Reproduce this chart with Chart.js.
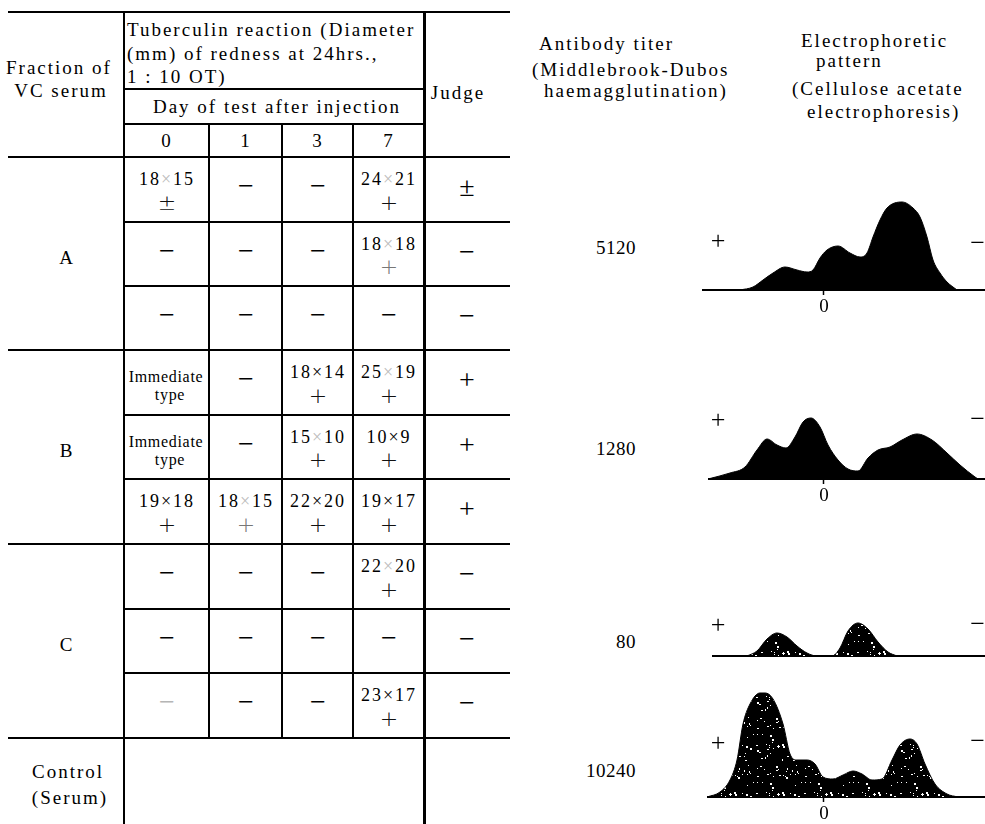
<!DOCTYPE html>
<html>
<head>
<meta charset="utf-8">
<script src="https://cdn.jsdelivr.net/npm/chart.js@4.4.0/dist/chart.umd.min.js"></script>
<style>
  html, body { margin: 0; padding: 0; background: #fff; }
  #page { position: relative; width: 985px; height: 824px; overflow: hidden;
          font-family: "Liberation Serif", "Times New Roman", serif; color: #000; }
  .t { position: absolute; white-space: nowrap; line-height: 0.85; transform-origin: 0 0; }
  .rule { position: absolute; background: #000; }
  canvas { position: absolute; }
</style>
</head>
<body>
<div id="page"></div>
<script>
// ---- Table content ----
const fractionLabels = ['A', 'B', 'C', 'Control\n(Serum)'];
const dayLabels = ['0', '1', '3', '7'];
const tuberculinHeader = ['Tuberculin reaction (Diameter', '(mm) of redness at 24hrs.,', '1 : 10 OT)'];
const reactionRows = [
  ['18×15\n±', '−', '−', '24×21\n+'],
  ['−', '−', '−', '18×18\n+'],
  ['−', '−', '−', '−'],
  ['Immediate\ntype', '−', '18×14\n+', '25×19\n+'],
  ['Immediate\ntype', '−', '15×10\n+', '10×9\n+'],
  ['19×18\n+', '18×15\n+', '22×20\n+', '19×17\n+'],
  ['−', '−', '−', '22×20\n+'],
  ['−', '−', '−', '−'],
  ['−', '−', '−', '23×17\n+'],
];
const judgeMarks = ['±', '−', '−', '+', '+', '+', '−', '−', '−'];
const titerHeader = ['Antibody titer', '(Middlebrook-Dubos', 'haemagglutination)'];
const patternHeader = ['Electrophoretic', 'pattern', '(Cellulose acetate', 'electrophoresis)'];
const titers = ['5120', '1280', '80', '10240'];

// ---- Electrophoretic densitometry profiles (mobility vs. density) ----
const mobilityA = [-8.4, -7.1, -6.1, -5.1, -3.9, -2.7, -1.7, -1.1, -0.4, 0.3, 1.4, 2.6, 3.6, 4.3, 4.9, 5.6, 6.3, 7.8, 8.9, 9.6, 10.3, 10.9, 11.6, 12.3, 13.3];
const densityA  = [0, 3, 10, 17, 23, 20, 18, 20, 32, 40, 44, 37, 33, 37, 53, 70, 82, 88, 82, 73, 53, 30, 17, 8, 0];
const mobilityB = [-11.6, -9.4, -7.9, -6.7, -5.7, -4.7, -3.8, -2.9, -2.1, -1.3, -0.4, 0.4, 1.4, 2.4, 3.4, 4.4, 5.4, 6.6, 7.8, 9.3, 10.8, 12.3, 13.6, 15.1, 15.4];
const densityB  = [0, 6, 12, 29, 40, 34, 31, 42, 57, 61, 52, 34, 19, 10, 8, 21, 29, 32, 39, 45, 39, 26, 14, 2, 0];
const mobilityC = [-7.7, -6.7, -5.7, -4.7, -3.7, -2.7, -1.7, -0.7, 0.8, 1.6, 2.4, 3.4, 4.4, 5.4, 6.4, 7.3];
const densityC  = [0, 5, 17, 23, 19, 10, 3, 0, 0, 8, 25, 33, 27, 14, 4, 0];
const mobilityControl = [-11.7, -10.4, -9.4, -8.7, -8.1, -7.4, -6.4, -5.9, -5.1, -4.1, -3.4, -2.7, -1.7, -0.9, -0.1, 0.9, 1.9, 2.9, 3.8, 4.8, 5.8, 6.8, 7.6, 8.6, 9.3, 10.1, 11.1, 12.3, 13.4];
const densityControl  = [0, 5, 17, 37, 73, 93, 104, 104, 98, 73, 43, 37, 37, 33, 20, 18, 22, 26, 23, 17, 18, 37, 52, 58, 53, 33, 13, 3, 0];

// ---- Layout ----
const page = document.getElementById('page');
const rowEdges = [157, 222, 286, 350, 415, 479, 544, 609, 673, 738];
const dayColX = [167, 246, 318, 389];
const judgeX = 467;
const faintCross = ['0,0', '0,3', '1,3', '3,3', '4,2', '5,1', '6,3'];
const faintCells = ['8,0'];
const LH = 0.85;                       // line-height in em

// baseline offset (em) from the top of a line box for a given font
function baseOff(family) {
  return family && family.startsWith('"DejaVu') ? LH / 2 + 0.346 : LH / 2 + 0.3375;
}

function put(text, x, base, o = {}) {
  const size = o.size || 19;
  const s = document.createElement('span');
  s.className = 't';
  s.style.fontSize = size + 'px';
  if (o.family) s.style.fontFamily = o.family;
  if (o.weight) s.style.fontWeight = o.weight;
  s.style.letterSpacing = (o.ls === undefined ? 2 : o.ls) + 'px';
  if (o.color) s.style.color = o.color;
  if (o.html) s.innerHTML = text; else s.textContent = text;
  s.style.left = x + 'px';
  s.style.top = (base - baseOff(o.family) * size) + 'px';
  const sx = o.scaleX || 1;
  const shift = o.align === 'left' ? '0' : (o.align === 'right' ? '-100%' : '-50%');
  s.style.transform = `translateX(${shift}) scaleX(${sx})`;
  s.style.transformOrigin = o.align === 'left' ? '0 0' : (o.align === 'right' ? '100% 0' : '50% 0');
  page.appendChild(s);
  return s;
}
function hRule(y, x1, x2, w) {
  const d = document.createElement('div');
  d.className = 'rule';
  Object.assign(d.style, { left: x1 + 'px', top: (y - w / 2) + 'px', width: (x2 - x1) + 'px', height: w + 'px' });
  page.appendChild(d);
}
function vRule(x, y1, y2, w) {
  const d = document.createElement('div');
  d.className = 'rule';
  Object.assign(d.style, { left: (x - w / 2) + 'px', top: y1 + 'px', width: w + 'px', height: (y2 - y1) + 'px' });
  page.appendChild(d);
}

// Table rules
hRule(12, 8, 510, 2);
hRule(89, 124, 424, 1.5);
hRule(124, 124, 424, 1.5);
rowEdges.forEach((y, i) => {
  const major = i % 3 === 0;
  hRule(y, major ? 8 : 124, 510, major ? 2 : 1.5);
});
vRule(124, 12, 824, 2);
vRule(424, 12, 824, 3);
[209, 282, 353].forEach(x => vRule(x, 124, 738, 1.5));

// Header text
put('Fraction of', 59, 74);
put('VC serum', 61, 97);
tuberculinHeader.forEach((t, i) => put(t, 127, [36.5, 60, 83.5][i], { align: 'left' }));
put('Day of test after injection', 277, 113);
dayLabels.forEach((d, i) => put(d, dayColX[i], 147));
put('Judge', 458, 99.5);
titerHeader.forEach((t, i) => put(t, [539, 532, 544][i], [50, 76, 97][i], { align: 'left' }));
patternHeader.forEach((t, i) => put(t, [801, 816, 792, 807][i], [47.5, 67, 95, 118][i], { align: 'left' }));

// Fraction labels
const groupBase = [264, 457, 651];
fractionLabels.forEach((f, i) => {
  if (i < 3) put(f, 67, groupBase[i]);
  else {
    const [a, b] = f.split('\n');
    put(a, 68, 778);
    put(b, 70, 804);
  }
});

// Reaction cells
const SYM = 28;
function mark(sym, x, base, color) {
  put(sym, x, base, { size: SYM, ls: 0, color });
}
reactionRows.forEach((row, r) => {
  const c = (rowEdges[r] + rowEdges[r + 1]) / 2;
  row.forEach((cell, k) => {
    const x = dayColX[k];
    const key = r + ',' + k;
    const faint = faintCells.includes(key) ? '#b5b5b5' : null;
    if (cell.startsWith('Immediate')) {
      const [a, b] = cell.split('\n');
      put(a, x - 1, c, { size: 16, ls: 0.7 });
      put(b, x + 3, c + 18, { size: 16, ls: 0.7 });
    } else if (cell.includes('\n')) {
      const [num, sign] = cell.split('\n');
      const parts = num.split('×');
      const cross = faintCross.includes(key) ? '<span style="color:#bbb">×</span>' : '×';
      put(parts[0] + cross + parts[1], x, c - 3.5, { size: 18, ls: 2, html: true });
      put(sign, x, c + 21, { size: 22, ls: 0, family: '"DejaVu Sans", sans-serif', weight: 200,
                              color: (key === '1,3' || key === '5,1') ? '#777' : '#111' });
    } else {
      mark(cell, x, c + 6, faint);
    }
  });
  const jm = judgeMarks[r];
  mark(jm, judgeX, c + 7);
});

// Titers
[254.5, 455, 648, 777].forEach((b, i) => put(titers[i], 636, b, { align: 'right', ls: 0.5 }));

// ---- Electrophoretic patterns drawn with Chart.js ----
const PLOT_H = 110;
const AXIS_H = 30;
const ORIGIN_X = 824;   // page x of mobility 0
const PX_PER_UNIT = 10;
const RIGHT_EDGE = 985;

// Grainy strip texture for the weaker-stained strips (fixed, repeatable speckle)
function grainFill() {
  const n = 48;
  const p = document.createElement('canvas');
  p.width = n; p.height = n;
  const g = p.getContext('2d');
  g.fillStyle = '#000';
  g.fillRect(0, 0, n, n);
  g.fillStyle = '#fff';
  let s = 12345;
  const next = () => (s = (s * 16807) % 2147483647);
  for (let i = 0; i < 55; i++) {
    const x = next() % n, y = next() % n;
    g.fillRect(x, y, 1 + (next() % 3 === 0 ? 1 : 0), 1 + (next() % 4 === 0 ? 1 : 0));
  }
  return g.createPattern(p, 'repeat');
}

function pattern(mob, dens, left, baseline, showZero, grainy) {
  const cv = document.createElement('canvas');
  cv.width = RIGHT_EDGE - left;
  cv.height = PLOT_H + AXIS_H;
  cv.style.left = left + 'px';
  cv.style.top = (baseline - PLOT_H) + 'px';
  page.appendChild(cv);
  new Chart(cv, {
    type: 'line',
    data: {
      datasets: [{
        data: mob.map((m, i) => ({ x: m, y: dens[i] })),
        borderColor: '#000',
        backgroundColor: grainy ? grainFill() : '#000',
        borderWidth: 1,
        fill: 'origin',
        pointRadius: 0,
        cubicInterpolationMode: 'monotone'
      }]
    },
    options: {
      responsive: false,
      animation: false,
      devicePixelRatio: 1,
      layout: { padding: 0 },
      plugins: { legend: { display: false }, tooltip: { enabled: false } },
      scales: {
        x: {
          type: 'linear',
          min: (left - ORIGIN_X) / PX_PER_UNIT,
          max: (RIGHT_EDGE - ORIGIN_X) / PX_PER_UNIT,
          afterFit: s => { s.height = AXIS_H; },
          afterBuildTicks: s => { s.ticks = [{ value: 0 }]; },
          border: { display: true, color: '#000', width: 2 },
          grid: { display: true, drawOnChartArea: false, drawTicks: showZero, tickLength: 5, tickColor: '#000', tickWidth: 1.5 },
          ticks: { display: showZero, color: '#000', padding: 1, font: { family: 'Liberation Serif', size: 19 } }
        },
        y: { display: false, min: 0, max: PLOT_H }
      }
    }
  });
}

pattern(mobilityA, densityA, 702, 290, true, false);
pattern(mobilityB, densityB, 708, 479, true, false);
pattern(mobilityC, densityC, 712, 656, false, true);
pattern(mobilityControl, densityControl, 707, 797, true, true);

// Polarity marks beside each pattern
[[243, 245], [422, 421], [627, 626], [745, 743]].forEach(([yp, ym]) => {
  put('+', 718, yp + 6.5, { size: 26, ls: 0 });
  put('−', 977.5, ym + 6.5, { size: 26, ls: 0 });
});
</script>
</body>
</html>
